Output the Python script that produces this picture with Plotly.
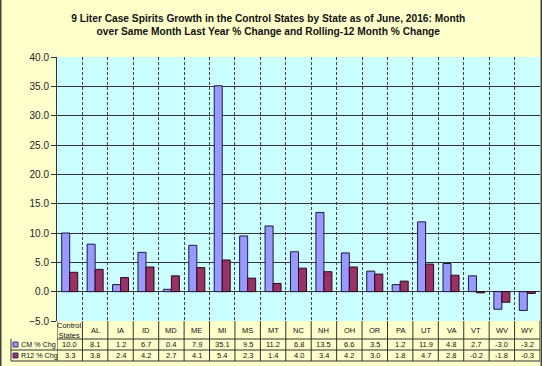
import plotly.graph_objects as go

categories = ["Control States", "AL", "IA", "ID", "MD", "ME", "MI", "MS", "MT", "NC",
              "NH", "OH", "OR", "PA", "UT", "VA", "VT", "WV", "WY"]
header_labels = ["Control<br>States", "AL", "IA", "ID", "MD", "ME", "MI", "MS", "MT", "NC",
                 "NH", "OH", "OR", "PA", "UT", "VA", "VT", "WV", "WY"]
cm_chg = [10.0, 8.1, 1.2, 6.7, 0.4, 7.9, 35.1, 9.5, 11.2, 6.8, 13.5, 6.6, 3.5, 1.2, 11.9, 4.8, 2.7, -3.0, -3.2]
r12_chg = [3.3, 3.8, 2.4, 4.2, 2.7, 4.1, 5.4, 2.3, 1.4, 4.0, 3.4, 4.2, 3.0, 1.8, 4.7, 2.8, -0.2, -1.8, -0.3]
series_names = ["CM % Chg", "R12 % Chg"]
title_text = ("9 Liter Case Spirits Growth in the Control States by State as of June, 2016: Month<br>"
              "over Same Month Last Year % Change and Rolling-12 Month % Change")

W, H = 542, 366
ML, MR, MT, MB = 57, 2, 57, 45
PW = W - ML - MR
PH = H - MT - MB

BLUE = "#9999FF"
RED = "#993366"
BG = "#FFFFCC"
PLOT_BG = "#CCFFFF"
LINE = "#333333"
FONT = "Liberation Sans, Arial, sans-serif"

fig = go.Figure()
fig.add_trace(go.Bar(x=categories, y=cm_chg, name=series_names[0],
                     marker=dict(color=BLUE, line=dict(color="#1a1a40", width=1))))
fig.add_trace(go.Bar(x=categories, y=r12_chg, name=series_names[1],
                     marker=dict(color=RED, line=dict(color="#2a0a18", width=1))))

def py(px):
    # pixels below plot bottom -> paper y
    return -px / PH

def pxx(px):
    return (px - ML) / PW

shapes = []
# table rows
row_h = [18, 29, 40]
for k, h in enumerate(row_h):
    x0 = 0 if k == 0 else pxx(11)
    shapes.append(dict(type="line", xref="paper", yref="paper", x0=x0, x1=1,
                       y0=py(h), y1=py(h), line=dict(color=LINE, width=1)))
for i in range(len(categories) + 1):
    shapes.append(dict(type="line", xref="x", yref="paper", x0=i - 0.5, x1=i - 0.5,
                       y0=0, y1=py(40), line=dict(color=LINE, width=1)))
shapes.append(dict(type="line", xref="paper", yref="paper", x0=pxx(11), x1=pxx(11),
                   y0=py(18), y1=py(40), line=dict(color=LINE, width=1)))
# legend keys
for k, col in enumerate([BLUE, RED]):
    yc = 23.5 + 11 * k
    shapes.append(dict(type="rect", xref="paper", yref="paper", x0=pxx(13), x1=pxx(18),
                       y0=py(yc - 2.5), y1=py(yc + 2.5), fillcolor=col,
                       line=dict(color="#333366", width=1)))
# outer chart border left/right
shapes.append(dict(type="line", xref="paper", yref="paper", x0=pxx(0.75), x1=pxx(0.75),
                   y0=py(-(MT + PH)), y1=py(MB), line=dict(color="#404040", width=1.5)))
shapes.append(dict(type="line", xref="paper", yref="paper", x0=pxx(541.25), x1=pxx(541.25),
                   y0=py(-(MT + PH)), y1=py(MB), line=dict(color="#404040", width=1.5)))

annotations = []
for i, lab in enumerate(header_labels):
    annotations.append(dict(x=categories[i], xref="x", y=py(9), yref="paper",
                            text=lab, showarrow=False, xanchor="center", yanchor="middle",
                            font=dict(size=7.5, color="#111", family=FONT)))
    annotations.append(dict(x=categories[i], xref="x", y=py(23.5), yref="paper",
                            text=f"{cm_chg[i]:.1f}", showarrow=False, xanchor="center",
                            yanchor="middle", font=dict(size=7.5, color="#111", family=FONT)))
    annotations.append(dict(x=categories[i], xref="x", y=py(34.5), yref="paper",
                            text=f"{r12_chg[i]:.1f}", showarrow=False, xanchor="center",
                            yanchor="middle", font=dict(size=7.5, color="#111", family=FONT)))
for k, nm in enumerate(series_names):
    annotations.append(dict(x=pxx(19), xref="paper", y=py(23.5 + 11 * k), yref="paper",
                            text=nm, showarrow=False, xanchor="left", yanchor="middle",
                            font=dict(size=7.2, color="#111", family=FONT)))

fig.update_layout(
    width=W, height=H,
    margin=dict(l=ML, r=MR, t=MT, b=MB),
    paper_bgcolor=BG, plot_bgcolor=PLOT_BG,
    showlegend=False,
    barmode="group", bargap=0.37, bargroupgap=0,
    title=dict(text=title_text, x=0.495, xref="container", xanchor="center",
               y=1 - 21.5 / H, yref="container", yanchor="middle",
               font=dict(size=10.2, color="#111", family=FONT, weight="bold")),
    xaxis=dict(type="category", showticklabels=False, ticks="", tickson="boundaries",
               showgrid=True, gridcolor="#404040", griddash="3px,2px", gridwidth=1,
               range=[-0.5, len(categories) - 0.5], showline=False),
    yaxis=dict(range=[-5, 40], dtick=5, tickformat=".1f", showgrid=True,
               gridcolor=LINE, gridwidth=1, zeroline=True, zerolinecolor=LINE,
               zerolinewidth=1, showline=True, linecolor=LINE, linewidth=1,
               ticks="outside", ticklen=5, tickcolor=LINE,
               tickfont=dict(size=10, color="#222", family=FONT)),
    shapes=shapes, annotations=annotations,
    font=dict(family=FONT),
)

fig.write_html("out.html", config={"displayModeBar": False},
               post_script="document.body.style.margin='0';document.body.style.padding='0';")
